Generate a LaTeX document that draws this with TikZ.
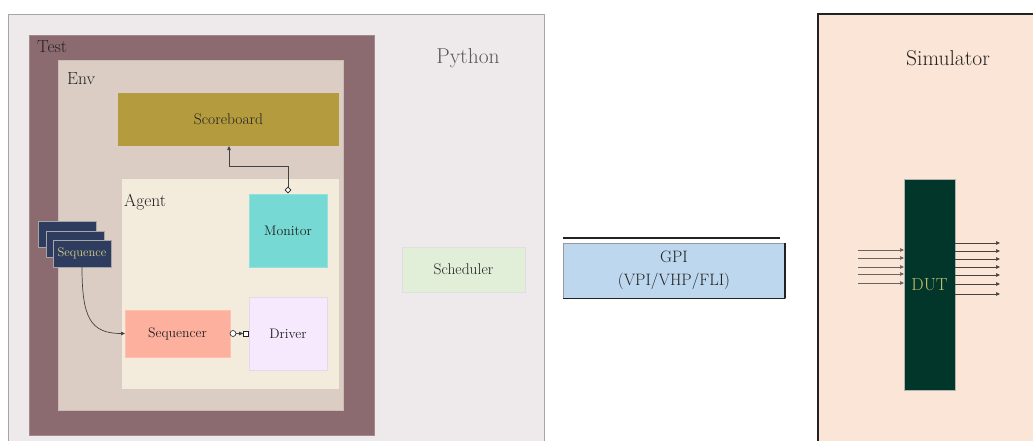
\documentclass[tikz,border=0pt]{standalone}
\usetikzlibrary{arrows.meta,shapes.geometric}
\definecolor{pybg}{HTML}{EEEAEB}
\definecolor{testc}{HTML}{8B6B70}
\definecolor{envc}{HTML}{DBCDC4}
\definecolor{sbc}{HTML}{B49C3E}
\definecolor{agentc}{HTML}{F3ECDD}
\definecolor{monc}{HTML}{76D9D3}
\definecolor{seqrc}{HTML}{FDB09D}
\definecolor{drvc}{HTML}{F6E8FD}
\definecolor{seqc}{HTML}{2E3D5F}
\definecolor{seqtxt}{HTML}{D8D08A}
\definecolor{schedc}{HTML}{E1EED8}
\definecolor{gpic}{HTML}{BDD7EE}
\definecolor{simc}{HTML}{FBE5D6}
\definecolor{dutc}{HTML}{02362A}
\definecolor{duttxt}{HTML}{C2C46E}
\definecolor{ink}{HTML}{222222}
\tikzset{
  blk/.style={rectangle, inner sep=0pt, outer sep=0pt, text=ink,
    font=\fontsize{13.8}{16}\selectfont},
  hdr/.style={anchor=west, inner sep=0pt, text=ink,
    font=\fontsize{17.5}{20}\selectfont},
  title/.style={inner sep=0pt, font=\fontsize{21.5}{24}\selectfont},
  seqbox/.style={blk, fill=seqc, draw=gray!70, line width=0.6pt,
    minimum width=58pt, minimum height=26pt, text=seqtxt,
    font=\fontsize{12.5}{14}\selectfont},
  arr/.style={draw=ink!85, line width=0.7pt,
    -{Triangle[length=4pt,width=3.5pt]}},
  pinarr/.style={arr, draw=ink!70}
}
\begin{document}
\begin{tikzpicture}[x=1pt,y=-1pt]
\useasboundingbox (0,0) rectangle (1033,441);
\clip (0,0) rectangle (1033,441);

% Python side
\node[blk, fill=pybg, draw=gray!70, line width=0.6pt,
      minimum width=536pt, minimum height=440pt] (py) at (276,234) {};
\node[title, text=ink!75] (pylbl) at (468,58) {Python};

% Test / Env / Agent nesting
\node[blk, fill=testc, draw=testc!80!white, line width=0.5pt,
      minimum width=345pt, minimum height=400pt] (test) at (201.5,235) {};
\node[hdr] (testlbl) at (37,47) {Test};
\node[blk, fill=envc, draw=envc!80!gray, line width=0.5pt,
      minimum width=285pt, minimum height=350pt] (env) at (200.5,235) {};
\node[hdr] (envlbl) at (67,79) {Env};
\node[blk, fill=sbc, minimum width=221pt, minimum height=53pt,
      font=\fontsize{15.5}{18}\selectfont] (sb) at (228.5,119.5) {Scoreboard};
\node[blk, fill=agentc, minimum width=217pt, minimum height=210pt]
      (agent) at (230.5,284) {};
\node[hdr] (agentlbl) at (124,202) {Agent};
\node[blk, fill=monc, draw=monc!80!white, line width=0.5pt,
      minimum width=78pt, minimum height=73pt] (mon) at (288,230.5) {Monitor};
\node[blk, fill=seqrc, draw=seqrc!80!white, line width=0.5pt,
      minimum width=105pt, minimum height=47pt] (seqr) at (177.5,333.5) {Sequencer};
\node[blk, fill=drvc, draw=drvc!85!gray, line width=0.5pt,
      minimum width=78pt, minimum height=73pt] (drv) at (288,333.5) {Driver};

% stacked sequences
\node[seqbox] (sq1) at (67,234) {};
\node[seqbox] (sq2) at (75,244) {};
\node[seqbox, minimum height=27pt] (sq3) at (82,253.5) {Sequence};

% monitor analysis port to scoreboard
\node[diamond, draw=ink, fill=white, line width=0.6pt, inner sep=0pt,
      minimum size=6pt] (mp) at ([yshift=4pt]mon.north) {};
\coordinate (elbow) at (229,166);
\coordinate (sbin) at (229,146);
\draw[arr] (mp.north) |- (elbow) -- (sbin);

% sequencer export to driver port
\node[circle, draw=ink, fill=white, line width=0.6pt, inner sep=0pt,
      minimum size=6pt] (sp) at ([xshift=3pt]seqr.east) {};
\node[rectangle, draw=ink, fill=white, line width=0.6pt, inner sep=0pt,
      minimum size=5pt] (dp) at ([xshift=-3pt]drv.west) {};
\draw[arr] (sp) -- (dp);

% sequence feeding the sequencer
\draw[arr] (sq3.south) .. controls +(0,50) and +(-35,0) .. (seqr.west);

% scheduler
\node[blk, fill=schedc, draw=gray!25, line width=0.5pt,
      minimum width=123pt, minimum height=45pt,
      font=\fontsize{15.5}{18}\selectfont] (sched) at (463.5,269.5) {Scheduler};

% GPI layer
\node[blk, fill=gpic, draw=gray!80, line width=0.6pt, align=center,
      minimum width=222pt, minimum height=55pt,
      font=\fontsize{16.5}{23}\selectfont] (gpi) at (674,270.5) {GPI\\(VPI/VHP/FLI)};
\draw[line width=1.6pt, ink] ([yshift=5pt]gpi.north west) -- ([xshift=-5pt,yshift=5pt]gpi.north east);
\draw[line width=1.4pt, ink] ([yshift=-0.5pt]gpi.south west) -- ([yshift=-0.5pt]gpi.south east);
\draw[line width=1.2pt, ink] (gpi.north east) -- (gpi.south east);

% simulator side
\node[blk, fill=simc, minimum width=230pt, minimum height=440pt,
      anchor=north west] (sim) at (818,14) {};
\draw[line width=1.6pt, ink] (sim.south west) -- (sim.north west) -- (sim.north east);
\node[title, text=ink] (simlbl) at (948,58) {Simulator};

\node[blk, fill=dutc, draw=gray!60, line width=0.5pt, text=duttxt,
      minimum width=51pt, minimum height=211pt,
      font=\fontsize{17.5}{20}\selectfont] (dut) at (929.5,284.5) {DUT};

% DUT pins
\foreach \y [count=\i] in {250,258,267,274,283} {
  \coordinate (in\i) at (858,\y);
  \draw[pinarr] (in\i) -- (in\i -| dut.west);
}
\foreach \y [count=\i] in {243,251,259,267,275,284,294} {
  \coordinate (out\i) at (1000,\y);
  \draw[arr] (out\i -| dut.east) -- (out\i);
}
\end{tikzpicture}
\end{document}
